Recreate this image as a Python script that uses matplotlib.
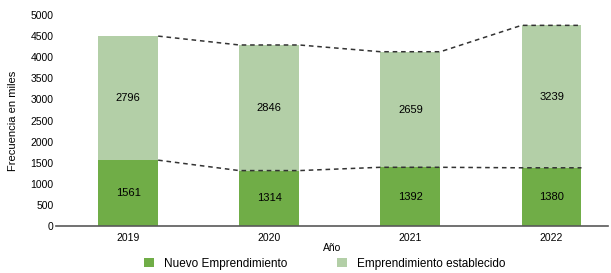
import numpy as np
import matplotlib.pyplot as plt

plt.rcParams['font.family'] = ['Liberation Sans', 'DejaVu Sans']

years = ['2019', '2020', '2021', '2022']
nuevo = [1561, 1314, 1392, 1380]
establecido = [2796, 2846, 2659, 3239]
# bar tops as drawn in the original (slightly above the labelled sums)
total_drawn = [4500, 4290, 4130, 4755]

dark = '#70AD47'
light = '#B3CFA7'

x = np.arange(len(years))
w = 0.425
est_height = [t - n for t, n in zip(total_drawn, nuevo)]

fig = plt.figure(figsize=(6.11, 2.73), dpi=100)
ax = fig.add_axes([0.092, 0.172, 0.903, 0.773])

ax.bar(x, nuevo, w, color=dark, label='Nuevo Emprendimiento')
ax.bar(x, est_height, w, bottom=nuevo, color=light, label='Emprendimiento establecido')

# dashed series lines joining the bar tops
for tops in (nuevo, total_drawn):
    xs, ys = [], []
    for i, t in enumerate(tops):
        xs += [i - w / 2, i + w / 2]
        ys += [t, t]
    ax.plot(xs[1:], ys[1:], ls=(0, (3, 2.5)), color='#333333', lw=1.1)

for i in x:
    ax.text(i, nuevo[i] / 2, str(nuevo[i]), ha='center', va='center', fontsize=8)
    ax.text(i, nuevo[i] + est_height[i] / 2, str(establecido[i]),
            ha='center', va='center', fontsize=8)

ax.set_xlim(-0.51, 3.40)
ax.set_ylim(0, 5000)
ax.set_yticks(range(0, 5001, 500))
ax.set_xticks(x)
ax.set_xticklabels(years)
ax.tick_params(axis='both', length=0, labelsize=7.5)
ax.tick_params(axis='y', pad=2)
ax.tick_params(axis='x', pad=5)
for s in ('top', 'right', 'left'):
    ax.spines[s].set_visible(False)
ax.spines['bottom'].set_color('#595959')
ax.spines['bottom'].set_linewidth(1.2)

ax.set_ylabel('Frecuencia en miles', fontsize=8, labelpad=9)
ax.set_xlabel('Año', fontsize=7.5, labelpad=0)

fig.legend(loc='center', bbox_to_anchor=(0.532, 0.034), ncol=2, frameon=False,
           fontsize=8.5, handlelength=0.8, handleheight=0.8, handletextpad=0.9,
           columnspacing=4.2)

fig.savefig('out.png', dpi=100)
